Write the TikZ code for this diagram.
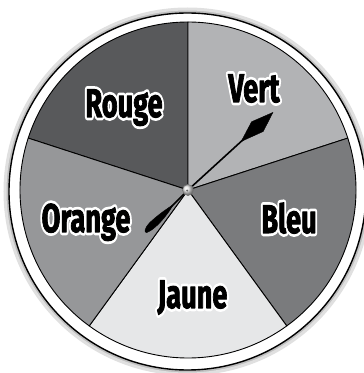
\documentclass[tikz,border=0pt]{standalone}
\usepackage{fontspec}
\setmainfont{Fira Sans}
\usetikzlibrary{calc}
\definecolor{cRouge}{RGB}{88,89,91}
\definecolor{cVert}{RGB}{178,179,181}
\definecolor{cBleu}{RGB}{122,123,125}
\definecolor{cJaune}{RGB}{230,231,232}
\definecolor{cOrange}{RGB}{150,151,153}
\newcommand\nar[1]{\scalebox{0.68}[1]{#1}}
\newcommand\halo[1]{\special{pdf:literal direct 1 j 6.5 w 1 G 1 Tr}\nar{#1}\special{pdf:literal direct 0 Tr}}
\newcommand\heavy[1]{\special{pdf:literal direct 1 j 1 w 0 G 2 Tr}\nar{#1}\special{pdf:literal direct 0 Tr}}
\newcommand\wlabel[3]{%
  \node[lbl,text=white] (#1w) at (#2) {\halo{#3}};
  \node[lbl] (#1) at (#2) {\heavy{#3}};}
\begin{document}
\begin{tikzpicture}[x=1pt,y=1pt,
  lbl/.style={font=\fontsize{40}{40}\selectfont\bfseries,anchor=base,inner sep=0pt,text=black},
  sector/.style={draw=black,line width=0.9pt,line join=round},
  ptr/.style={fill=black,draw=black,line width=0.4pt}]
\useasboundingbox (0,0) rectangle (364,373);
\fill[white] (0,0) rectangle (364,373);
\coordinate (R) at (187.5,181.5);
\coordinate (O) at (188,183);
% outer ring with soft shadow
\draw[black!25,line width=5pt] (R) circle (180);
\draw[black!12,line width=3pt] (R) circle (182.5);
\fill[white] (R) circle (178.5);
\draw[black,line width=1.4pt] (R) circle (178.5);
% sectors
\filldraw[sector,fill=cRouge]  (O) -- ++(90:168)  arc[start angle=90,  end angle=162, radius=168] -- cycle;
\filldraw[sector,fill=cVert]   (O) -- ++(18:168)  arc[start angle=18,  end angle=90,  radius=168] -- cycle;
\filldraw[sector,fill=cBleu]   (O) -- ++(-54:168) arc[start angle=-54, end angle=18,  radius=168] -- cycle;
\filldraw[sector,fill=cJaune]  (O) -- ++(-126:168) arc[start angle=-126,end angle=-54, radius=168] -- cycle;
\filldraw[sector,fill=cOrange] (O) -- ++(162:168) arc[start angle=162, end angle=234, radius=168] -- cycle;
% labels
\wlabel{rouge}{124,256}{Rouge}
\wlabel{vert}{254,271}{Vert}
\wlabel{orange}{86,141}{Orange}
\wlabel{bleu}{289,140}{Bleu}
\wlabel{jaune}{192.5,65}{Jaune}
% pointer
\begin{scope}[shift={(O)},rotate=42.4]
  \draw[black,line width=1.6pt] (0,0) -- (75,0);
  \filldraw[ptr] (72,0) -- (93,7.5) -- (115,0) -- (95,-7.5) -- cycle;
\end{scope}
\begin{scope}[shift={(O)},rotate=224.8]
  \draw[black,line width=1.6pt] (0,0) -- (24,0);
  \filldraw[ptr] (21,0) .. controls (32,3.5) and (52,5) .. (59.5,1)
     .. controls (61,-1) and (58,-3.5) .. (50,-3.8)
     .. controls (40,-3.5) and (30,-2) .. (21,0) -- cycle;
\end{scope}
% hub
\shade[ball color=black!12] (O) circle (5.6);
\draw[black!55,line width=0.5pt] (O) circle (5.6);
\fill[black!60] ($(O)+(-0.8,-0.6)$) circle (1.1);
\end{tikzpicture}
\end{document}
